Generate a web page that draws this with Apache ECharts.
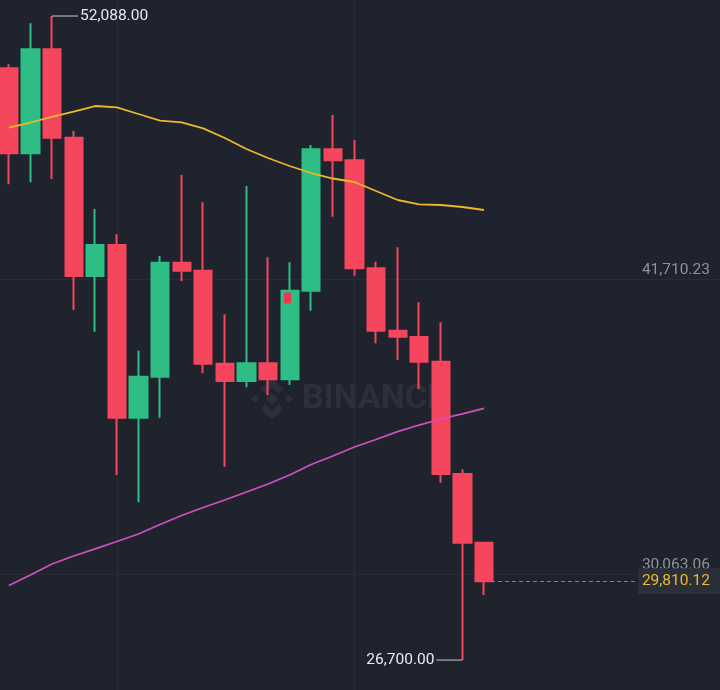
<!DOCTYPE html>
<html>
<head>
<meta charset="utf-8">
<script src="https://cdn.jsdelivr.net/npm/echarts@6/dist/echarts.min.js"></script>
<style>
html,body{margin:0;padding:0;background:#1f232e;}
#chart{width:720px;height:690px;}
</style>
</head>
<body>
<div id="chart"></div>
<script>
// ---- data ----
const categories = ['C01','C02','C03','C04','C05','C06','C07','C08','C09','C10','C11','C12','C13','C14','C15','C16','C17','C18','C19','C20','C21','C22','C23','C24','C25','C26','C27','C28','C29','C30','C31','C32','C33','C34'];
const opens  = [50026, 46676, 50775, 47291, 41839, 43061, 36253, 37869, 42363, 42048, 38382, 37700, 38397, 37767, 41259, 46833, 46400, 42142, 39683, 39430, 38461, 34034, 31325];
const closes = [46676, 50775, 47291, 41839, 43061, 36253, 37869, 42363, 42048, 38382, 37700, 38397, 37767, 41259, 46833, 46400, 42142, 39683, 39446, 38461, 34034, 31325, 29810.12];
const lows   = [45454, 45532, 45663, 40499, 39643, 33994, 32918, 36253, 41642, 38003, 34321, 37451, 37136, 37542, 40471, 44176, 41851, 39186, 38528, 37372, 33691, 26700, 29264];
const highs  = [50184, 51800, 52088, 47555, 44480, 43494, 38894, 42627, 45820, 44744, 40329, 45387, 42576, 42379, 47003, 48185, 47200, 42402, 42970, 40802, 40014, 34219, 31325];
const maShort = [47685, 47890, 48107, 48323, 48540, 48489, 48225, 47961, 47898, 47661, 47279, 46845, 46490, 46175, 45899, 45682, 45544, 45189, 44835, 44665, 44638, 44559, 44441];
const maLong  = [29638, 30052, 30486, 30801, 31085, 31373, 31668, 32043, 32398, 32713, 33009, 33324, 33639, 33994, 34408, 34743, 35098, 35394, 35701, 35965, 36202, 36407, 36623];
const priceLevels = [41710.23, 30063.06];
const lastPrice = 29810.12;
const highMark = {cat: 'C03', value: 52088.00};
const lowMark = {cat: 'C22', value: 26700.00};
const tradeMark = {cat: 'C14', value: 40972};
const verticalGridCats = ['C06', 'C17'];

// ---- build ----
const fmt = v => Number(v).toLocaleString('en-US', {minimumFractionDigits: 2, maximumFractionDigits: 2});
const candleData = opens.map((o, i) => [o, closes[i], lows[i], highs[i]]);
const FONT = 'Roboto, "Noto Sans", sans-serif';
const chart = echarts.init(document.getElementById('chart'), null, {renderer: 'canvas'});

const gridLineStyle = {color: '#282c38', width: 1, type: 'solid'};
const markLineData = priceLevels.map(v => ({yAxis: v, lineStyle: gridLineStyle}))
  .concat(verticalGridCats.map(c => ({xAxis: c, lineStyle: gridLineStyle})))
  .concat([[
    {coord: [categories[closes.length - 1], lastPrice], lineStyle: {color: '#8f8051', width: 1, type: [4, 3]}},
    {coord: ['C30', lastPrice]}
  ]]);

const Y_MIN = 25519, Y_MAX = 52719;
const baseYAxis = {
  type: 'value', min: Y_MIN, max: Y_MAX, position: 'right', offset: -12.4,
  axisLine: {show: false}, axisTick: {show: false}, splitLine: {show: false}
};

const option = {
  backgroundColor: '#1f232e',
  animation: false,
  grid: {left: -2, right: -12.4, top: 0, bottom: 0, containLabel: false, outerBoundsMode: 'none'},
  xAxis: {
    type: 'category', data: categories, show: false, boundaryGap: true
  },
  yAxis: [
    Object.assign({}, baseYAxis, {
      z: 9,
      axisLabel: {
        inside: true, margin: 0, hideOverlap: false,
        customValues: priceLevels,
        formatter: v => '{g|' + fmt(v) + '}',
        rich: {g: {color: '#8e929c', fontSize: 15.5, fontFamily: FONT, padding: [0, 10, 19, 0]}}
      }
    }),
    Object.assign({}, baseYAxis, {
      z: 10,
      axisLabel: {
        inside: true, margin: 0, hideOverlap: false,
        customValues: [lastPrice],
        formatter: v => '{cur|' + fmt(v) + '}',
        rich: {cur: {color: '#efba2c', fontSize: 15.5, fontFamily: FONT, backgroundColor: '#2b2f3a', padding: [5, 10, 5, 4], lineHeight: 16}}
      }
    })
  ],
  graphic: [
    {type: 'group', x: 272, y: 399, z: 0, silent: true, children: [
      {type: 'polygon', shape: {points: [[0,-6],[6,0],[0,6],[-6,0]]}, style: {fill: '#2c303c'}},
      {type: 'polygon', shape: {points: [[-17,-4.5],[-12.5,0],[-17,4.5],[-21.5,0]]}, style: {fill: '#2c303c'}},
      {type: 'polygon', shape: {points: [[17,-4.5],[21.5,0],[17,4.5],[12.5,0]]}, style: {fill: '#2c303c'}},
      {type: 'polygon', shape: {points: [[0,-21],[11,-10],[6.5,-5.5],[0,-12],[-6.5,-5.5],[-11,-10]]}, style: {fill: '#2c303c'}},
      {type: 'polygon', shape: {points: [[0,21],[11,10],[6.5,5.5],[0,12],[-6.5,5.5],[-11,10]]}, style: {fill: '#2c303c'}}
    ]},
    {type: 'text', x: 302, y: 399, z: 0, silent: true, style: {text: 'BINANCE', fill: '#2c303c', font: 'bold 34px ' + FONT, textVerticalAlign: 'middle', textAlign: 'left'}}
  ],
  series: [
    {
      type: 'line', data: categories.map(() => '-'), z: 1, silent: true, showSymbol: false,
      markLine: {z: 1, silent: true, symbol: 'none', label: {show: false}, data: markLineData}
    },
    {
      type: 'candlestick', data: candleData, barWidth: 17.7, z: 2,
      itemStyle: {color: '#2ebd85', color0: '#f6465d', borderColor: '#2ebd85', borderColor0: '#f6465d', borderWidth: 2},
      markPoint: {
        z: 5, silent: true,
        data: [
          {coord: [highMark.cat, highMark.value], value: highMark.value, symbol: 'rect', symbolSize: [26, 1], symbolOffset: [13, 0],
            itemStyle: {color: '#c9ccd2'},
            label: {show: true, position: 'right', distance: 2, color: '#e8eaed', fontSize: 15.5, fontFamily: FONT, formatter: p => fmt(p.value)}},
          {coord: [lowMark.cat, lowMark.value], value: lowMark.value, symbol: 'rect', symbolSize: [26, 1], symbolOffset: [-13, 0],
            itemStyle: {color: '#c9ccd2'},
            label: {show: true, position: 'left', distance: 2, color: '#e8eaed', fontSize: 15.5, fontFamily: FONT, formatter: p => fmt(p.value)}},
          {coord: [tradeMark.cat, tradeMark.value], value: tradeMark.value, symbol: 'rect', symbolSize: [7, 11], symbolOffset: [-2, 0],
            itemStyle: {color: '#f0364f'}, label: {show: false}}
        ]
      }
    },
    {
      type: 'line', data: maShort, z: 3, showSymbol: false, silent: true,
      lineStyle: {color: '#ebb92a', width: 1.8}
    },
    {
      type: 'line', data: maLong, z: 3, showSymbol: false, silent: true,
      lineStyle: {color: '#d050c0', width: 1.8}
    }
  ]
};
chart.setOption(option);
</script>
</body>
</html>
